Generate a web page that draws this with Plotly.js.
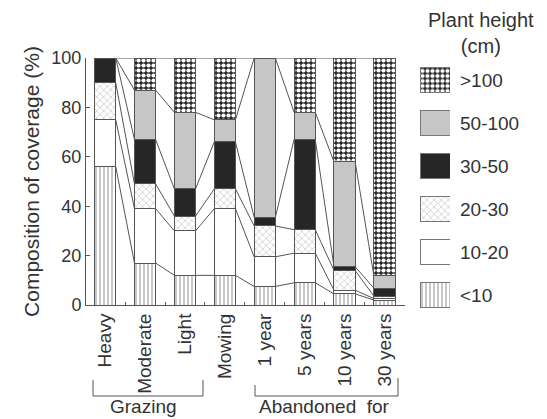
<!DOCTYPE html>
<html>
<head>
<meta charset="utf-8">
<script src="https://cdn.plot.ly/plotly-3.0.1.min.js"></script>
<style>html,body{margin:0;padding:0;background:#fff;}#chart{width:547px;height:419px;}</style>
</head>
<body>
<div id="chart"></div>
<script>
// ---- data ----
const categories = ["Heavy", "Moderate", "Light", "Mowing", "1 year", "5 years", "10 years", "30 years"];
const heightClasses = ["<10", "10-20", "20-30", "30-50", "50-100", ">100"];
const lt10    = [56, 17, 12, 12, 7.5, 9, 4.5, 2];
const h10_20  = [19, 22, 18, 27, 12, 12, 1.5, 0.6];
const h20_30  = [15, 10, 6, 8, 12.5, 9.5, 8, 1];
const h30_50  = [10, 18, 11, 19, 3.5, 36.5, 1.5, 3.2];
const h50_100 = [0, 20, 31, 9, 64.5, 11, 42.5, 5];
const gt100   = [0, 13, 22, 25, 0, 22, 42, 88.2];
const yTickVals = [0, 20, 40, 60, 80, 100];
const groupLabels = ["Grazing", "Abandoned\u00a0 for"];
const legendTitle = "Plant height<br>(cm)";
const yTitle = "Composition of coverage (%)";

// ---- styles ----
const series = [lt10, h10_20, h20_30, h30_50, h50_100, gt100];
const styles = [
  {color: "#ffffff", pattern: {shape: "|", fgcolor: "#a2a2a2", bgcolor: "#ffffff", size: 4, solidity: 0.3}},
  {color: "#ffffff", pattern: {shape: ""}},
  {color: "#ffffff", pattern: {shape: "x", fgcolor: "#9c9c9c", bgcolor: "#ffffff", size: 5, solidity: 0.15}},
  {color: "#262626", pattern: {shape: ""}},
  {color: "#c6c6c6", pattern: {shape: ""}},
  {color: "#2a2a2a", pattern: {shape: ".", fgcolor: "#ffffff", bgcolor: "#2a2a2a", size: 5, solidity: 0.55}}
];
const FONT = "Liberation Sans, Arial, Helvetica, sans-serif";
const TXT = "#333333";
const LINE = "#555555";
const BW = 0.53;
const xIdx = categories.map((c, i) => i);

const traces = [];
series.forEach((vals, k) => {
  traces.push({
    type: "bar", x: xIdx, y: vals, width: BW, name: heightClasses[k], showlegend: false,
    marker: {color: styles[k].color, pattern: styles[k].pattern, line: {color: LINE, width: 1}},
    hoverinfo: "skip"
  });
});

// connector lines between stacked boundaries
const cum = categories.map((c, i) => {
  let s = 0; return series.map(v => (s += v[i]));
});
const cx = [], cy = [];
for (let k = 0; k < series.length; k++) {
  for (let i = 0; i < categories.length - 1; i++) {
    cx.push(i + BW / 2, i + 1 - BW / 2, null);
    cy.push(cum[i][k], cum[i + 1][k], null);
  }
}
traces.push({type: "scatter", mode: "lines", x: cx, y: cy, line: {color: LINE, width: 1},
  showlegend: false, hoverinfo: "skip", connectgaps: false});

// legend swatches as a small subplot (one trace per class)
const legendOrder = heightClasses.slice().reverse();
heightClasses.forEach((cls, k) => {
  traces.push({
    type: "bar", orientation: "h", xaxis: "x2", yaxis: "y2",
    y: [cls], x: [1], width: 0.58, showlegend: false, hoverinfo: "skip",
    marker: {color: styles[k].color, pattern: styles[k].pattern, line: {color: "#777777", width: 1}}
  });
});

// pixel helpers for decorations (margins l=86, t=40, paper 451x279)
const px = x => (x - 86) / 451;
const py = y => (319 - y) / 279;

const layout = {
  width: 547, height: 419,
  margin: {l: 86, r: 10, t: 40, b: 100},
  paper_bgcolor: "#fff", plot_bgcolor: "rgba(0,0,0,0)",
  barmode: "stack", bargap: 0,
  font: {family: FONT, color: TXT, size: 19},
  xaxis: {
    domain: [0, px(405)], range: [-0.48, 7.515], type: "linear",
    tickvals: xIdx, ticktext: categories, tickangle: -90, ticks: "",
    tickfont: {size: 19, color: TXT}, showgrid: false, zeroline: false,
    showline: true, linecolor: LINE, linewidth: 1,
    minor: {tickvals: xIdx.slice(0, -1).map(i => i + 0.5), ticks: "inside", ticklen: 3, tickcolor: LINE, showgrid: false}
  },
  yaxis: {
    domain: [py(305), py(58)], range: [0, 100],
    tickvals: yTickVals, ticks: "inside", ticklen: 4, tickcolor: LINE,
    tickfont: {size: 18, color: TXT}, showgrid: false, zeroline: false,
    showline: true, linecolor: LINE, linewidth: 1,
    title: {text: yTitle, font: {size: 21, color: TXT}, standoff: 6}
  },
  xaxis2: {domain: [px(420), px(450)], range: [0, 1], anchor: "y2", visible: false, fixedrange: true},
  yaxis2: {
    domain: [py(316.5), py(58.5)], range: [5.5, -0.5], type: "category",
    categoryorder: "array", categoryarray: legendOrder,
    anchor: "x2", side: "right", ticks: "", showline: false, showgrid: false, zeroline: false,
    ticklabelstandoff: 9,
    tickfont: {size: 19, color: TXT}
  },
  annotations: [
    {xref: "paper", yref: "paper", x: px(481), y: py(7), xanchor: "center", yanchor: "top",
     text: legendTitle, showarrow: false, font: {size: 20, color: TXT}},
    {xref: "paper", yref: "paper", x: px(143), y: py(407), xanchor: "center", yanchor: "middle",
     text: groupLabels[0], showarrow: false, font: {size: 19, color: TXT}},
    {xref: "paper", yref: "paper", x: px(324), y: py(407), xanchor: "center", yanchor: "middle",
     text: groupLabels[1], showarrow: false, font: {size: 19, color: TXT}}
  ],
  shapes: [
    {type: "path", xref: "paper", yref: "paper",
     path: `M ${px(93)} ${py(380)} L ${px(93)} ${py(396)} L ${px(203)} ${py(396)} L ${px(203)} ${py(380)}`,
     line: {color: LINE, width: 1}},
    {type: "path", xref: "paper", yref: "paper",
     path: `M ${px(255)} ${py(385)} L ${px(255)} ${py(396)} L ${px(398)} ${py(396)} L ${px(398)} ${py(378)}`,
     line: {color: LINE, width: 1}}
  ],
  showlegend: false
};

Plotly.newPlot("chart", traces, layout, {displayModeBar: false, staticPlot: true});
</script>
</body>
</html>
